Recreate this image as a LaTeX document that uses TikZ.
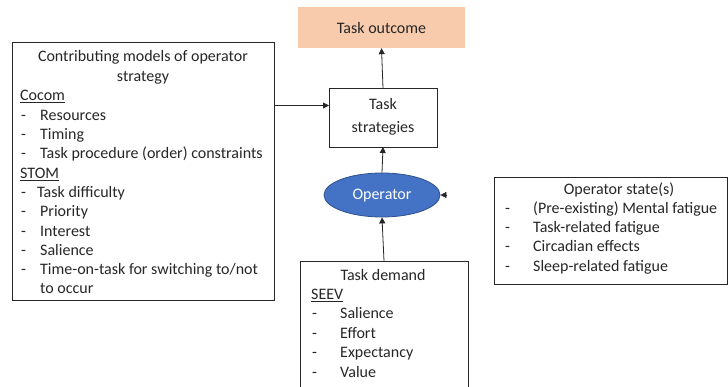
\documentclass[tikz,border=0pt]{standalone}
\usepackage{fontspec}
\setmainfont{Carlito}
\usetikzlibrary{arrows.meta,shapes.geometric}
\definecolor{peach}{HTML}{F8CBAD}
\definecolor{opblue}{HTML}{4472C4}
\definecolor{opedge}{HTML}{2F528F}
\definecolor{ink}{HTML}{262626}
\begin{document}
\begin{tikzpicture}[x=1pt,y=-1pt,
  box/.style={draw=ink,line width=0.8pt,inner sep=0pt,outer sep=0pt},
  txt/.style={inner sep=0pt,anchor=base west,text=ink,font=\fontsize{16}{19}\selectfont},
  ctr/.style={inner sep=0pt,anchor=base,text=ink,font=\fontsize{16}{19}\selectfont},
  arr/.style={draw=ink,line width=0.8pt,-{Triangle[length=6pt,width=6pt]}}]
\useasboundingbox (0,0) rectangle (728,387);
\clip (0,0) rectangle (728,387);
% boxes
\node[box,minimum width=262pt,minimum height=258pt] (models) at (143,171) {};
\node[fill=peach,inner sep=0pt,minimum width=167pt,minimum height=41pt] (outcome) at (381.5,27.5) {};
\node[box,minimum width=108pt,minimum height=59pt] (strat) at (383,117.5) {};
\node[ellipse,draw=opedge,fill=opblue,line width=0.8pt,minimum width=116pt,minimum height=44pt,inner sep=0pt] (op) at (382,195) {};
\node[box,minimum width=168pt,minimum height=139pt] (demand) at (384,330.5) {};
\node[box,minimum width=233pt,minimum height=107pt] (state) at (610.5,230.5) {};
% texts: outcome, strategies, operator
\node[ctr] (toutcome) at (381.5,34) {Task outcome};
\node[ctr] (tstrat1) at (383,110) {Task};
\node[ctr] (tstrat2) at (383,133) {strategies};
\node[ctr,text=white] (top) at (382,200) {Operator};
% left box
\node[ctr] (m1) at (143,62) {Contributing models of operator};
\node[ctr] (m2) at (143,82) {strategy};
\node[txt] (m3) at (20,101) {\underline{Cocom}};
\node[txt] (m4d) at (21,121) {-};
\node[txt] (m4) at (40,121) {Resources};
\node[txt] (m5d) at (21,140) {-};
\node[txt] (m5) at (40,140) {Timing};
\node[txt] (m6d) at (21,159) {-};
\node[txt] (m6) at (40,159) {Task procedure (order) constraints};
\node[txt] (m7) at (20,179) {\underline{STOM}};
\node[txt] (m8d) at (21,198) {-};
\node[txt] (m8) at (37,198) {Task difficulty};
\node[txt] (m9d) at (21,217) {-};
\node[txt] (m9) at (40,217) {Priority};
\node[txt] (m10d) at (21,237) {-};
\node[txt] (m10) at (40,237) {Interest};
\node[txt] (m11d) at (21,256) {-};
\node[txt] (m11) at (40,256) {Salience};
\node[txt] (m12d) at (21,275) {-};
\node[txt] (m12) at (40,275) {Time-on-task for switching to/not};
\node[txt] (m13) at (40,294) {to occur};
% task demand
\node[ctr] (d1) at (383,280) {Task demand};
\node[txt] (d2) at (311,300) {\underline{SEEV}};
\node[txt] (d3d) at (312,319) {-};
\node[txt] (d3) at (340,319) {Salience};
\node[txt] (d4d) at (312,338) {-};
\node[txt] (d4) at (340,338) {Effort};
\node[txt] (d5d) at (312,357) {-};
\node[txt] (d5) at (340,357) {Expectancy};
\node[txt] (d6d) at (312,377) {-};
\node[txt] (d6) at (340,377) {Value};
% operator state
\node[ctr] (s1) at (619,195) {Operator state(s)};
\node[txt] (s2d) at (505,214) {-};
\node[txt] (s2) at (533,214) {(Pre-existing) Mental fatigue};
\node[txt] (s3d) at (505,233) {-};
\node[txt] (s3) at (533,233) {Task-related fatigue};
\node[txt] (s4d) at (505,252) {-};
\node[txt] (s4) at (533,252) {Circadian effects};
\node[txt] (s5d) at (505,272) {-};
\node[txt] (s5) at (533,272) {Sleep-related fatigue};
% connectors
\coordinate (sin) at ([yshift=12pt]strat.west);
\draw[arr] (models.east |- sin) -- (sin);
\draw[arr] (strat.north) -- (outcome.south);
\draw[arr] (op.north) -- (strat.south);
\draw[arr] (demand.north) -- (op.south);
\coordinate (stail) at ([xshift=7pt]op.east);
\draw[arr] (stail) -- (op.east);
\end{tikzpicture}
\end{document}
